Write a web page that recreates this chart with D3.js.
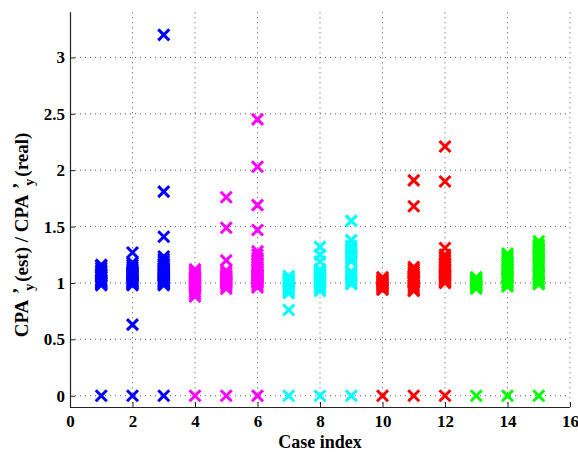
<!DOCTYPE html>
<html><head><meta charset="utf-8">
<script src="https://cdn.jsdelivr.net/npm/d3@7"></script>
<style>body{margin:0;background:#fff}svg{display:block}</style>
</head><body>
<script>
// ---- data ----
const caseIndex = [1,2,3,4,5,6,7,8,9,10,11,12,13,14,15];
const caseColors = ["#0000ff","#0000ff","#0000ff","#ff00ff","#ff00ff","#ff00ff","#00ffff","#00ffff","#00ffff","#ff0000","#ff0000","#ff0000","#00ff00","#00ff00","#00ff00"];
const case01 = [0,0.98,0.99,1.0,1.01,1.02,1.03,1.05,1.06,1.08,1.1,1.11,1.13,1.15,1.16];
const case02 = [0,0.63,0.98,0.99,1.0,1.01,1.02,1.03,1.04,1.05,1.06,1.07,1.08,1.09,1.1,1.12,1.14,1.16,1.18,1.27];
const case03 = [0,0.98,0.99,1.0,1.01,1.02,1.03,1.04,1.05,1.06,1.07,1.08,1.09,1.1,1.11,1.12,1.13,1.15,1.17,1.19,1.21,1.235,1.41,1.81,3.2];
const case04 = [0,0.88,0.9,0.92,0.94,0.96,0.97,0.98,0.99,1.0,1.01,1.02,1.03,1.04,1.05,1.06,1.08,1.1,1.12];
const case05 = [0,0.95,0.97,0.99,1.0,1.01,1.02,1.03,1.04,1.05,1.06,1.07,1.09,1.11,1.2,1.49,1.76];
const case06 = [0,0.96,0.98,1.0,1.01,1.02,1.03,1.04,1.05,1.06,1.07,1.08,1.1,1.12,1.14,1.16,1.18,1.2,1.22,1.25,1.28,1.47,1.69,2.03,2.45];
const case07 = [0,0.76,0.91,0.93,0.95,0.97,0.99,1.0,1.01,1.02,1.03,1.04,1.06];
const case08 = [0,0.93,0.95,0.97,0.99,1.0,1.01,1.02,1.03,1.04,1.05,1.06,1.07,1.08,1.09,1.1,1.12,1.19,1.25,1.32];
const case09 = [0,0.99,1.0,1.02,1.04,1.06,1.08,1.1,1.19,1.21,1.23,1.25,1.27,1.29,1.31,1.33,1.38,1.55];
const case10 = [0,0.94,0.95,0.96,0.97,0.98,0.99,1.0,1.01,1.02,1.03,1.04,1.05];
const case11 = [0,0.93,0.94,0.96,0.98,1.0,1.01,1.02,1.03,1.04,1.05,1.06,1.08,1.1,1.12,1.14,1.68,1.91];
const case12 = [0,1.0,1.01,1.02,1.03,1.04,1.05,1.06,1.07,1.08,1.1,1.12,1.14,1.16,1.18,1.2,1.22,1.25,1.31,1.9,2.21];
const case13 = [0,0.95,0.96,0.97,0.98,0.99,1.0,1.01,1.02,1.03,1.04,1.05];
const case14 = [0,0.97,0.98,1.0,1.02,1.04,1.05,1.06,1.08,1.1,1.12,1.14,1.16,1.18,1.2,1.22,1.24,1.26];
const case15 = [0,0.99,1.0,1.01,1.03,1.05,1.07,1.09,1.14,1.16,1.18,1.2,1.22,1.24,1.26,1.28,1.3,1.32,1.34,1.37];
const xTicks = [0,2,4,6,8,10,12,14,16];
const yTicks = [0,0.5,1,1.5,2,2.5,3];
const xDomain = [0,16];
const yDomain = [-0.1,3.4];

const allCases = [case01,case02,case03,case04,case05,case06,case07,case08,case09,case10,case11,case12,case13,case14,case15];
const points = [];
caseIndex.forEach((c,i)=>allCases[i].forEach(v=>points.push({x:c,y:v,color:caseColors[i]})));

// ---- layout ----
const W=578,H=452, L=70, R=570, T=12.3, B=407;
const svg=d3.select("body").append("svg").attr("width",W).attr("height",H);
const x=d3.scaleLinear().domain(xDomain).range([L,R]);
const y=d3.scaleLinear().domain(yDomain).range([B,T]);
const font="'Liberation Serif','Times New Roman',serif";

// grid
const g=svg.append("g");
g.selectAll(".vg").data(xTicks.filter(d=>d>0)).join("line")
 .attr("x1",d=>x(d)).attr("x2",d=>x(d)).attr("y1",T).attr("y2",B)
 .attr("stroke","#555").attr("stroke-dasharray","1,4").attr("stroke-width",1);
g.selectAll(".hg").data(yTicks).join("line")
 .attr("x1",L).attr("x2",R).attr("y1",d=>y(d)).attr("y2",d=>y(d))
 .attr("stroke","#555").attr("stroke-dasharray","1,4").attr("stroke-width",1);

// axes
const xAxis=d3.axisBottom(x).tickValues(xTicks).tickSizeInner(-5).tickSizeOuter(0).tickPadding(8).tickFormat(d3.format("d"));
const yAxis=d3.axisLeft(y).tickValues(yTicks).tickSizeInner(-5).tickSizeOuter(0).tickPadding(5).tickFormat(d=>String(d));
const gx=svg.append("g").attr("transform",`translate(0,${B})`).call(xAxis);
const gy=svg.append("g").attr("transform",`translate(${L},0)`).call(yAxis);
[gx,gy].forEach(a=>{
  a.attr("font-family",font).attr("font-size",17);
  a.select(".domain").attr("stroke","#222").attr("stroke-width",1.2);
  a.selectAll(".tick line").attr("stroke","#222");
  a.selectAll("text").attr("font-family",font).attr("font-weight","bold").attr("font-size",17).attr("fill","#000");
});
gy.select(".domain").attr("d",`M0.5,${T}V${B}`);
gx.select(".domain").attr("d",`M${L},0.5H${R}`);

// markers
const s=5.5;
svg.append("g").selectAll("path").data(points).join("path")
 .attr("transform",d=>`translate(${x(d.x)},${y(d.y)})`)
 .attr("d",`M${-s},${-s}L${s},${s}M${-s},${s}L${s},${-s}`)
 .attr("stroke",d=>d.color).attr("stroke-width",3).attr("fill","none");

// labels
svg.append("text").attr("x",(L+R)/2).attr("y",448).attr("text-anchor","middle")
 .attr("font-family",font).attr("font-weight","bold").attr("font-size",18).text("Case index");

const yl=svg.append("text").attr("transform",`translate(28,235) rotate(-90)`).attr("text-anchor","middle")
 .attr("font-family",font).attr("font-weight","bold").attr("font-size",19);
yl.append("tspan").text("CPA");
yl.append("tspan").attr("dx",7).attr("dy",-2).text("\u2019");
yl.append("tspan").attr("dx",-3).attr("dy",8).attr("font-size",14).text("y");
yl.append("tspan").attr("dx",2).attr("dy",-6).text("(est) / CPA");
yl.append("tspan").attr("dx",7).attr("dy",-2).text("\u2019");
yl.append("tspan").attr("dx",-3).attr("dy",8).attr("font-size",14).text("y");
yl.append("tspan").attr("dx",2).attr("dy",-6).text("(real)");
</script>
</body></html>
